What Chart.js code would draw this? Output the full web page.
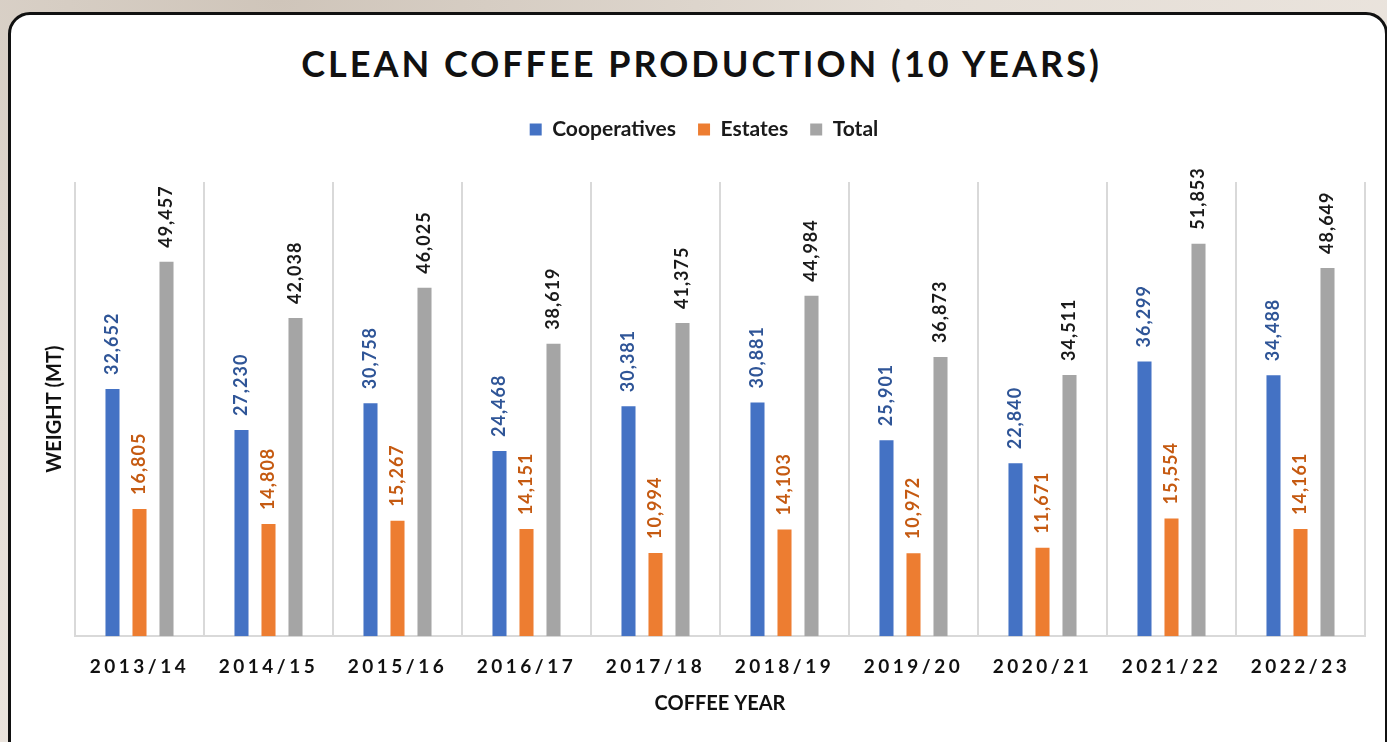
<!DOCTYPE html>
<html>
<head>
<meta charset="utf-8">
<script src="https://cdn.jsdelivr.net/npm/chart.js@4.4.1/dist/chart.umd.min.js"></script>
<style>
  html, body { margin: 0; padding: 0; width: 1387px; height: 742px; overflow: hidden; }
  body {
    background: radial-gradient(ellipse at 20% 0%, #cfc5ba 0%, #e4ddd5 40%, #efe9e3 100%);
    font-family: Lato, sans-serif;
  }
  .card {
    position: absolute; left: 8px; top: 12px; width: 1374px; height: 760px;
    background: #fff; border: 3px solid #111; border-radius: 22px;
  }
  .title {
    position: absolute; left: 0; top: 38px; width: 1403px; text-align: center;
    font: bold 36px Lato, sans-serif; letter-spacing: 3px; color: #111; line-height: 50px;
  }
  #wrap { position: absolute; left: 0; top: 0; width: 1387px; height: 742px; }
</style>
</head>
<body>
<div class="card"></div>
<div class="title">CLEAN COFFEE PRODUCTION (10 YEARS)</div>
<div id="wrap"><canvas id="myChart"></canvas></div>
<script>
const years = ['2013/14', '2014/15', '2015/16', '2016/17', '2017/18', '2018/19', '2019/20', '2020/21', '2021/22', '2022/23'];
const cooperatives = [32652, 27230, 30758, 24468, 30381, 30881, 25901, 22840, 36299, 34488];
const estates = [16805, 14808, 15267, 14151, 10994, 14103, 10972, 11671, 15554, 14161];
const total = [49457, 42038, 46025, 38619, 41375, 44984, 36873, 34511, 51853, 48649];

const labelColors = ['#2f5597', '#c55a11', '#1a1a1a'];

// draws the rotated value labels above each bar
const valueLabels = {
    id: 'valueLabels',
    afterDatasetsDraw(chart) {
        const ctx = chart.ctx;
        chart.data.datasets.forEach((ds, i) => {
            const meta = chart.getDatasetMeta(i);
            meta.data.forEach((bar, j) => {
                ctx.save();
                ctx.translate(bar.x, bar.y - 14);
                ctx.rotate(-Math.PI / 2);
                ctx.font = 'bold 18px Lato';
                ctx.letterSpacing = '1px';
                ctx.fillStyle = labelColors[i];
                ctx.textAlign = 'left';
                ctx.textBaseline = 'middle';
                ctx.fillText(ds.data[j].toLocaleString('en-US'), 0, 0);
                ctx.restore();
            });
        });
    }
};

// extra room under the legend, and spaced-out year labels
const layoutTweaks = {
    id: 'layoutTweaks',
    beforeInit(chart) {
        const fit = chart.legend.fit;
        chart.legend.fit = function () {
            fit.call(this);
            this.height = 182 - 97;
        };
    },
    afterLayout(chart) {
        const s = chart.scales.x;
        if (!s._spaced) {
            const orig = s.drawLabels.bind(s);
            s.drawLabels = function (area) {
                const c = this.ctx;
                const prev = c.letterSpacing;
                c.letterSpacing = '3.5px';
                orig(area);
                c.letterSpacing = prev;
            };
            s._spaced = true;
        }
    }
};

const ctx = document.getElementById('myChart').getContext('2d');
new Chart(ctx, {
    type: 'bar',
    data: {
        labels: years,
        datasets: [
            { label: 'Cooperatives', data: cooperatives, backgroundColor: '#4472c4' },
            { label: 'Estates', data: estates, backgroundColor: '#ed7d31' },
            { label: 'Total', data: total, backgroundColor: '#a5a5a5' }
        ]
    },
    options: {
        responsive: true,
        maintainAspectRatio: false,
        animation: false,
        categoryPercentage: 0.628,
        barPercentage: 0.52,
        layout: { padding: { top: 97, left: 43, right: 22, bottom: 22 } },
        plugins: {
            legend: {
                position: 'top',
                labels: {
                    boxWidth: 12,
                    boxHeight: 12,
                    padding: 22,
                    color: '#1a1a1a',
                    font: { family: 'Lato', size: 21, weight: 'bold' }
                }
            },
            tooltip: { enabled: false }
        },
        scales: {
            x: {
                grid: { display: true, offset: true, color: '#d9d9d9', lineWidth: 2, drawTicks: false },
                border: { color: '#d9d9d9', width: 2 },
                ticks: {
                    padding: 19,
                    maxRotation: 0,
                    color: '#111',
                    font: { family: 'Lato', size: 19, weight: 'bold' }
                },
                title: {
                    display: true,
                    text: 'COFFEE YEAR',
                    color: '#111',
                    padding: { top: -5, bottom: 4 },
                    font: { family: 'Lato', size: 20, weight: 'bold' }
                }
            },
            y: {
                beginAtZero: true,
                max: 60000,
                grid: { display: false },
                border: { display: false },
                ticks: { display: false },
                title: {
                    display: true,
                    text: 'WEIGHT (MT)',
                    color: '#111',
                    padding: { top: 0, bottom: 0 },
                    font: { family: 'Lato', size: 20, weight: 'bold' }
                }
            }
        }
    },
    plugins: [valueLabels, layoutTweaks]
});
</script>
</body>
</html>
